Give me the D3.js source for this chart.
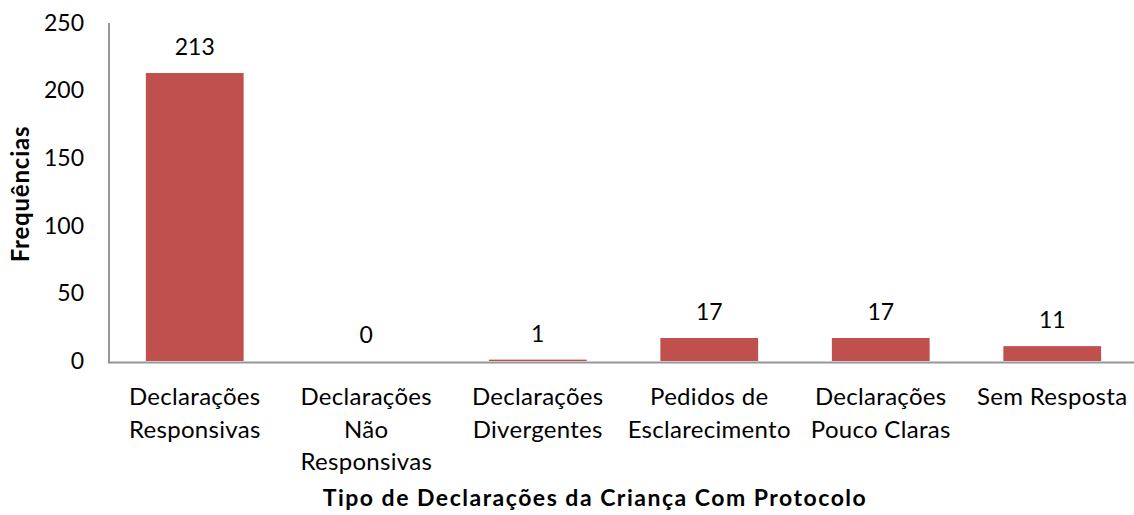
<!DOCTYPE html>
<html>
<head>
<meta charset="utf-8">
<script src="https://cdn.jsdelivr.net/npm/d3@7"></script>
<style>
body{margin:0;background:#fff;}
svg text{font-family:Lato,"Open Sans",sans-serif;fill:#000;}
</style>
</head>
<body>
<svg id="chart" width="1134" height="515"></svg>
<script>
'use strict'
// data
var categories = [
	['Declarações','Responsivas']
	,['Declarações','Não','Responsivas']
	,['Declarações','Divergentes']
	,['Pedidos de','Esclarecimento']
	,['Declarações','Pouco Claras']
	,['Sem Resposta']
];
var values = [213, 0, 1, 17, 17, 11];
var yTicks = [0, 50, 100, 150, 200, 250];
var xTitle = 'Tipo de Declarações da Criança Com Protocolo';
var yTitle = 'Frequências';

var svg = d3.select('#chart');
var x0 = 109, x1 = 1138, yTop = 23, yBase = 361;

var x = d3.scaleBand()
	.domain(d3.range(values.length))
	.range([x0, x1])
	.paddingInner(0.43)
	.paddingOuter(0.215);
var y = d3.scaleLinear().domain([0, 250]).range([yBase, yTop]);

// tick labels, no tick marks
var yAxis = d3.axisLeft(y).tickValues(yTicks).tickSize(0).tickPadding(25);
var gy = svg.append('g').attr('transform', 'translate(' + x0 + ',0)').call(yAxis);
gy.select('.domain').remove();
gy.selectAll('text').attr('font-size', 23).style('font-family', 'Lato');

// axis lines (bars sit on top of the x axis line)
svg.append('line').attr('x1', x0).attr('x2', 1134).attr('y1', yBase + 1.5).attr('y2', yBase + 1.5)
	.attr('stroke', '#969696').attr('stroke-width', 2);
svg.append('line').attr('x1', x0).attr('x2', x0).attr('y1', yTop).attr('y2', yBase + 2.5)
	.attr('stroke', '#969696').attr('stroke-width', 2);

// bars
svg.append('g').selectAll('rect')
	.data(values)
	.join('rect')
	.attr('x', function(d, i){ return x(i); })
	.attr('y', function(d){ return y(d); })
	.attr('width', x.bandwidth())
	.attr('height', function(d){ return yBase - y(d); })
	.attr('fill', '#C0504D');

// value labels
svg.append('g').selectAll('text')
	.data(values)
	.join('text')
	.attr('x', function(d, i){ return x(i) + x.bandwidth() / 2; })
	.attr('y', function(d){ return y(d) - 18; })
	.attr('text-anchor', 'middle')
	.attr('font-size', 23)
	.text(function(d){ return d; });

// category labels
var cat = svg.append('g').selectAll('text')
	.data(categories)
	.join('text')
	.attr('x', function(d, i){ return x(i) + x.bandwidth() / 2; })
	.attr('y', 405)
	.attr('text-anchor', 'middle')
	.attr('font-size', 24)
	.attr('letter-spacing', 0.3);
cat.selectAll('tspan')
	.data(function(d){ return d; })
	.join('tspan')
	.attr('x', function(){ return d3.select(this.parentNode).attr('x'); })
	.attr('dy', function(d, i){ return i ? 32.5 : 0; })
	.text(function(d){ return d; });

// axis titles
svg.append('text')
	.attr('x', 595).attr('y', 506)
	.attr('text-anchor', 'middle')
	.attr('font-size', 23).attr('font-weight', 'bold')
	.attr('letter-spacing', 1.5)
	.text(xTitle);
svg.append('text')
	.attr('transform', 'translate(29,194) rotate(-90)')
	.attr('text-anchor', 'middle')
	.attr('font-size', 24).attr('font-weight', 'bold')
	.attr('letter-spacing', 0.8)
	.text(yTitle);
</script>
</body>
</html>
